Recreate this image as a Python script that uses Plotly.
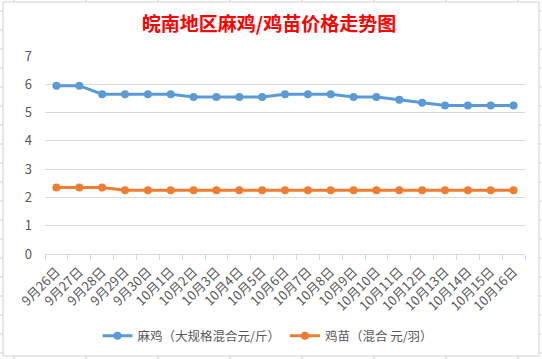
import plotly.graph_objects as go

categories = ["9月26日", "9月27日", "9月28日", "9月29日", "9月30日",
              "10月1日", "10月2日", "10月3日", "10月4日", "10月5日", "10月6日",
              "10月7日", "10月8日", "10月9日", "10月10日", "10月11日", "10月12日",
              "10月13日", "10月14日", "10月15日", "10月16日"]
maji = [5.95, 5.95, 5.65, 5.65, 5.65, 5.65, 5.55, 5.55, 5.55, 5.55, 5.65,
        5.65, 5.65, 5.55, 5.55, 5.45, 5.35, 5.25, 5.25, 5.25, 5.25]
jimiao = [2.35, 2.35, 2.35, 2.25, 2.25, 2.25, 2.25, 2.25, 2.25, 2.25, 2.25,
          2.25, 2.25, 2.25, 2.25, 2.25, 2.25, 2.25, 2.25, 2.25, 2.25]
y_ticks = [0, 1, 2, 3, 4, 5, 6, 7]

W, H = 542, 359
L, R, T, B = 45, 17, 56, 105
pw, ph = W - L - R, H - T - B

def px(x):
    return (x - L) / pw

def py(y):
    return (H - B - y) / ph

FONT = "Noto Sans CJK SC"
fig = go.Figure()
fig.add_trace(go.Scatter(x=categories, y=maji, mode="lines+markers",
                         name="麻鸡（大规格混合元/斤）",
                         line=dict(color="#5B9BD5", width=3),
                         marker=dict(color="#5B9BD5", size=8)))
fig.add_trace(go.Scatter(x=categories, y=jimiao, mode="lines+markers",
                         name="鸡苗（混合 元/羽）",
                         line=dict(color="#ED7D31", width=3),
                         marker=dict(color="#ED7D31", size=8)))

shapes = [dict(type="rect", xref="paper", yref="paper",
               x0=px(3), x1=px(539), y0=py(2), y1=py(356),
               line=dict(color="#D0D0D0", width=1), layer="below")]
for xv in range(14, 542, 72):
    shapes.append(dict(type="line", xref="paper", yref="paper",
                       x0=px(xv), x1=px(xv), y0=py(0), y1=py(2),
                       line=dict(color="#D0D0D0", width=1)))
    shapes.append(dict(type="line", xref="paper", yref="paper",
                       x0=px(xv), x1=px(xv), y0=py(356), y1=py(359),
                       line=dict(color="#D0D0D0", width=1)))
for yv in range(11, 359, 19):
    shapes.append(dict(type="line", xref="paper", yref="paper",
                       x0=px(0), x1=px(3), y0=py(yv), y1=py(yv),
                       line=dict(color="#D0D0D0", width=1)))
    shapes.append(dict(type="line", xref="paper", yref="paper",
                       x0=px(539), x1=px(542), y0=py(yv), y1=py(yv),
                       line=dict(color="#D0D0D0", width=1)))

fig.update_layout(
    width=W, height=H,
    margin=dict(l=L, r=R, t=T, b=B, autoexpand=False),
    paper_bgcolor="white", plot_bgcolor="white",
    font=dict(family=FONT, size=12, color="#595959"),
    title=dict(text="<b>皖南地区麻鸡/鸡苗价格走势图</b>", x=269 / W, xref="container",
               xanchor="center", y=1 - 24 / H, yanchor="middle", automargin=False,
               font=dict(family=FONT, size=19, color="#FF0000")),
    showlegend=True,
    legend=dict(orientation="h", x=px(268), xanchor="center", y=py(336), yanchor="middle",
                font=dict(family=FONT, size=12.5, color="#595959"),
                itemwidth=30, traceorder="normal"),
    xaxis=dict(type="category", tickangle=-45, tickson="boundaries",
               ticks="outside", ticklen=5, tickcolor="#D9D9D9", automargin=False,
               showline=True, linecolor="#D9D9D9", linewidth=1, ticklabelstandoff=4,
               showgrid=False, tickfont=dict(size=13, color="#595959"),
               range=[-0.5, len(categories) - 0.5]),
    yaxis=dict(range=[0, 7], tickvals=y_ticks, showgrid=True, gridcolor="#D9D9D9",
               zeroline=False, showline=False, ticks="", ticklabelstandoff=12,
               automargin=False, tickfont=dict(size=13, color="#595959")),
    shapes=shapes,
)
fig.write_html("out.html", config={"displayModeBar": False},
               post_script="document.body.style.margin='0';document.body.style.overflow='hidden';")
